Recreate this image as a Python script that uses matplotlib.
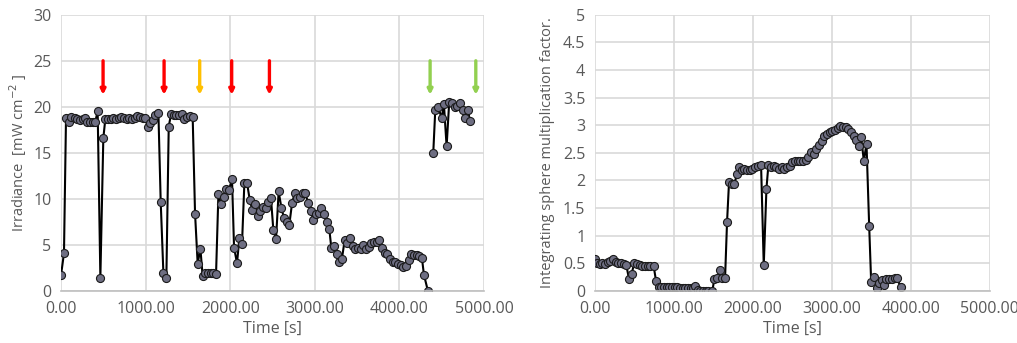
import matplotlib
matplotlib.use("Agg")
import matplotlib.pyplot as plt
from matplotlib.ticker import FormatStrFormatter, FuncFormatter

plt.rcParams['font.family'] = ['Open Sans', 'DejaVu Sans']

# Irradiance, first run (s, mW cm-2)
t_irr_a = [0, 35, 59, 95, 122, 162, 193, 225, 256, 288, 311, 343, 374, 406, 433, 465,
           500, 524, 556, 587, 619, 650, 682, 713, 745, 776, 808, 839, 871, 902, 934, 965,
           997, 1024, 1056, 1087, 1115, 1151, 1178, 1210, 1245, 1273, 1300, 1332, 1363,
           1395, 1426, 1458, 1489, 1521, 1556, 1584, 1615, 1647, 1674, 1706, 1737, 1769,
           1800, 1832, 1860, 1891, 1922, 1954, 1985, 2021, 2045, 2080, 2107, 2139, 2167,
           2198, 2230, 2261, 2292, 2324, 2355, 2387, 2418, 2450, 2481, 2509, 2541, 2572,
           2604, 2635, 2667, 2698, 2730, 2761, 2793, 2824, 2856, 2887, 2919, 2950, 2982,
           3013, 3045, 3076, 3108, 3139, 3171, 3194, 3226, 3257, 3289, 3320, 3352, 3383,
           3415, 3446, 3478, 3509, 3541, 3572, 3604, 3635, 3667, 3698, 3730, 3761, 3793,
           3824, 3856, 3887, 3919, 3950, 3982, 4013, 4045, 4076, 4108, 4139, 4171, 4202,
           4234, 4265, 4289, 4336]
irr_a = [1.7, 4.1, 18.8, 18.4, 18.9, 18.75, 18.7, 18.6, 18.65, 18.75, 18.3, 18.3, 18.3,
         18.4, 19.55, 1.45, 16.6, 18.7, 18.7, 18.7, 18.8, 18.7, 18.8, 18.9, 18.8, 18.7,
         18.8, 18.7, 18.8, 19.0, 18.9, 18.75, 18.75, 17.85, 18.2, 18.6, 19.1, 19.3, 9.7,
         1.9, 1.45, 17.85, 19.2, 19.1, 19.1, 19.1, 19.2, 18.65, 18.85, 19.0, 18.85, 8.4,
         2.95, 4.6, 1.6, 1.9, 1.95, 1.95, 1.9, 1.8, 10.5, 9.4, 10.15, 11.1, 11.0, 12.1,
         4.7, 3.0, 5.7, 5.1, 11.75, 11.75, 9.9, 8.8, 9.4, 8.1, 8.7, 9.15, 9.0, 9.7, 10.1,
         6.65, 5.6, 10.8, 9.05, 7.9, 7.5, 7.2, 9.5, 10.6, 10.05, 10.2, 10.6, 10.6, 9.6,
         8.7, 7.7, 8.4, 8.5, 9.05, 8.4, 7.5, 6.7, 4.7, 4.85, 4.0, 3.15, 3.5, 5.5, 5.15,
         5.7, 4.9, 4.55, 4.7, 4.6, 4.95, 4.6, 4.8, 5.15, 5.35, 5.35, 5.5, 4.7, 4.15, 4.0,
         3.5, 3.15, 3.15, 2.95, 2.85, 2.55, 2.75, 3.4, 4.05, 3.9, 3.9, 3.8, 3.6, 1.75, 0.0]

# Irradiance, second run
t_irr_b = [4399, 4423, 4458, 4498, 4525, 4557, 4588, 4620, 4651, 4683, 4714, 4746, 4769,
           4805, 4836]
irr_b = [14.95, 19.65, 20.0, 18.75, 20.3, 15.7, 20.55, 20.4, 19.95, 20.1, 20.45, 19.65,
         18.75, 19.65, 18.45]

# event markers above the irradiance trace
arrow_t = [497, 1218, 1639, 2017, 2463, 4362, 4902]
arrow_colors = ['#ff0000', '#ff0000', '#ffc000', '#ff0000', '#ff0000', '#92d050', '#92d050']

# Integrating sphere multiplication factor
t_fac = [0, 25, 59, 93, 127, 161, 194, 228, 262, 296, 330, 364, 397, 431, 465, 499, 533,
         566, 600, 634, 668, 702, 744, 774, 807, 841, 875, 909, 943, 976, 1010, 1044,
         1078, 1112, 1146, 1179, 1213, 1247, 1272, 1302, 1336, 1370, 1403, 1437, 1488,
         1513, 1547, 1581, 1606, 1649, 1674, 1699, 1733, 1767, 1801, 1826, 1860, 1894,
         1928, 1961, 1995, 2029, 2063, 2105, 2139, 2173, 2198, 2232, 2266, 2300, 2333,
         2367, 2401, 2435, 2469, 2502, 2536, 2570, 2604, 2638, 2671, 2705, 2739, 2773,
         2807, 2841, 2874, 2908, 2942, 2976, 3010, 3043, 3077, 3111, 3145, 3179, 3212,
         3246, 3280, 3314, 3348, 3373, 3407, 3441, 3475, 3500, 3534, 3568, 3602, 3636,
         3661, 3694, 3728, 3762, 3796, 3830, 3872]
fac = [0.58, 0.51, 0.49, 0.51, 0.49, 0.52, 0.54, 0.57, 0.52, 0.51, 0.51, 0.49, 0.47, 0.22,
       0.31, 0.51, 0.49, 0.46, 0.45, 0.45, 0.45, 0.45, 0.45, 0.18, 0.07, 0.07, 0.07, 0.07,
       0.07, 0.07, 0.07, 0.07, 0.06, 0.05, 0.05, 0.05, 0.05, 0.05, 0.08, 0.01, 0.0, 0.0,
       0.0, 0.0, 0.0, 0.22, 0.24, 0.37, 0.24, 0.24, 1.25, 1.97, 1.94, 1.94, 2.12, 2.25,
       2.19, 2.21, 2.19, 2.19, 2.21, 2.25, 2.26, 2.28, 0.46, 1.85, 2.28, 2.24, 2.27, 2.24,
       2.21, 2.24, 2.21, 2.24, 2.27, 2.33, 2.36, 2.35, 2.35, 2.36, 2.37, 2.42, 2.51, 2.47,
       2.56, 2.65, 2.72, 2.8, 2.84, 2.87, 2.89, 2.92, 2.95, 2.98, 2.96, 2.96, 2.93, 2.87,
       2.81, 2.73, 2.62, 2.78, 2.36, 2.66, 1.17, 0.16, 0.25, 0.06, 0.14, 0.2, 0.1, 0.21,
       0.22, 0.22, 0.23, 0.23, 0.07]

GRID = '#d9d9d9'
TXT = '#595959'
FS = 11.5
mk = dict(color='black', lw=1.5, marker='o', ms=5.8, mfc='#6e6e82', mec='#1a1a1a', mew=0.8)


def style(ax, ymax, ystep):
    ax.set_xlim(0, 5000)
    ax.set_ylim(0, ymax)
    ax.set_xticks(range(0, 5001, 1000))
    n = int(round(ymax / ystep))
    ax.set_yticks([i * ystep for i in range(n + 1)])
    ax.xaxis.set_major_formatter(FormatStrFormatter('%.2f'))
    ax.grid(True, color=GRID, lw=1.2)
    ax.set_axisbelow(True)
    for s in ['top', 'right', 'left']:
        ax.spines[s].set_visible(False)
    ax.spines['bottom'].set_color('#bfbfbf')
    ax.spines['bottom'].set_linewidth(1.2)
    ax.tick_params(length=0, colors=TXT, labelsize=FS, pad=7)
    ax.set_xlabel('Time [s]', color=TXT, fontsize=FS, labelpad=3)


fig = plt.figure(figsize=(10.17, 3.43), dpi=100)

# Left: irradiance
ax1 = fig.add_axes([0.060, 0.152, 0.416, 0.805])
style(ax1, 30, 5)
ax1.plot(t_irr_a, irr_a, **mk)
ax1.plot(t_irr_b, irr_b, **mk)
for t, c in zip(arrow_t, arrow_colors):
    ax1.annotate('', xy=(t, 21.3), xytext=(t, 25.0),
                 arrowprops=dict(arrowstyle='-|>', color=c, lw=2.4, mutation_scale=7,
                                 shrinkA=0, shrinkB=0))
ax1.set_ylabel('Irradiance  [mW cm$^{-2}$ ]', color=TXT, fontsize=10.5, labelpad=3)

# Right: multiplication factor
ax2 = fig.add_axes([0.585, 0.152, 0.388, 0.805])
style(ax2, 5, 0.5)
ax2.yaxis.set_major_formatter(FuncFormatter(lambda v, p: '%g' % v))
ax2.plot(t_fac, fac, **mk)
ax2.set_ylabel('Integrating sphere multiplication factor.', color=TXT, fontsize=10.5,
               labelpad=6)

fig.savefig('out.png', dpi=100)
